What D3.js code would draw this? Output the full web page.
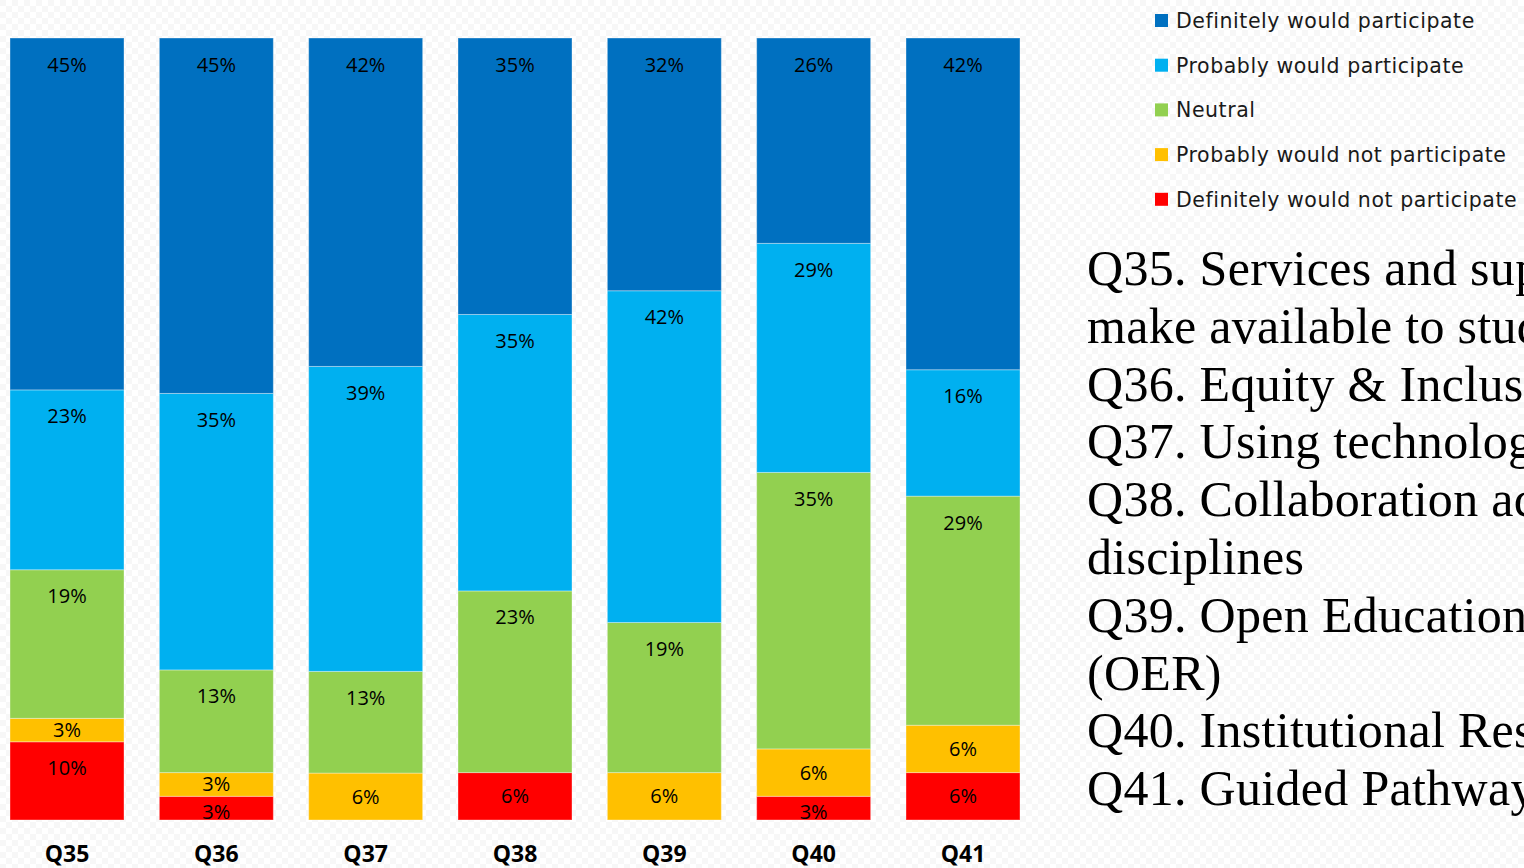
<!DOCTYPE html>
<html>
<head>
<meta charset="utf-8">
<script src="https://cdn.jsdelivr.net/npm/d3@7"></script>
<style>
  html, body { margin: 0; padding: 0; background: #fff; overflow: hidden; }
  svg { display: block; }
</style>
</head>
<body>
<svg id="chart" width="1524" height="868"></svg>
<script>
// ---- Data ----
const categories = ["Q35", "Q36", "Q37", "Q38", "Q39", "Q40", "Q41"];
const seriesNames = [
  "Definitely would participate",
  "Probably would participate",
  "Neutral",
  "Probably would not participate",
  "Definitely would not participate"
];
const definitelyWould    = [45, 45, 42, 35, 32, 26, 42];
const probablyWould      = [23, 35, 39, 35, 42, 29, 16];
const neutral            = [19, 13, 13, 23, 19, 35, 29];
const probablyWouldNot   = [3, 3, 6, 0, 6, 6, 6];
const definitelyWouldNot = [10, 3, 0, 6, 0, 3, 6];
const seriesColors = ["#0070C0", "#00B0F0", "#92D050", "#FFC000", "#FF0000"];
const descriptionLines = [
  "Q35. Services and supports you would like to",
  "make available to students",
  "Q36. Equity & Inclusion",
  "Q37. Using technology in teaching",
  "Q38. Collaboration across",
  "disciplines",
  "Q39. Open Educational Resources",
  "(OER)",
  "Q40. Institutional Research",
  "Q41. Guided Pathways"
];

// ---- Build table ----
const seriesArrays = [definitelyWould, probablyWould, neutral, probablyWouldNot, definitelyWouldNot];
const table = categories.map((c, i) => {
  const row = { cat: c };
  seriesNames.forEach((s, j) => row[s] = seriesArrays[j][i]);
  return row;
});

const svg = d3.select("#chart");

// background faint checker texture
const defs = svg.append("defs");
const pat = defs.append("pattern").attr("id", "bgpat")
  .attr("width", 12).attr("height", 12).attr("patternUnits", "userSpaceOnUse");
pat.append("rect").attr("width", 12).attr("height", 12).attr("fill", "#ffffff");
pat.append("rect").attr("width", 6).attr("height", 6).attr("fill", "#f7f7f7");
pat.append("rect").attr("x", 6).attr("y", 6).attr("width", 6).attr("height", 6).attr("fill", "#f7f7f7");
svg.append("rect").attr("width", 1524).attr("height", 868).attr("fill", "url(#bgpat)");

// stack from bottom: red, yellow, green, light blue, dark blue
const stackOrder = seriesNames.slice().reverse();
const stack = d3.stack().keys(stackOrder).offset(d3.stackOffsetExpand);
const stacked = stack(table);

const x = d3.scaleBand().domain(categories).range([10, 1020]).paddingInner(0.2366).paddingOuter(0);
const y = d3.scaleLinear().domain([0, 1]).range([820, 38]);
const color = d3.scaleOrdinal().domain(seriesNames).range(seriesColors);

const layers = svg.append("g").selectAll("g.layer")
  .data(stacked).enter().append("g").attr("class", "layer")
  .attr("fill", d => color(d.key));

layers.selectAll("rect")
  .data(d => d.map(p => ({ p, key: d.key })))
  .enter().append("rect")
  .attr("x", d => x(d.p.data.cat))
  .attr("width", x.bandwidth())
  .attr("y", d => y(d.p[1]))
  .attr("height", d => y(d.p[0]) - y(d.p[1]))
  .attr("stroke", "#ffffff").attr("stroke-opacity", 0.35).attr("stroke-width", 1);

// data labels
layers.selectAll("text")
  .data(d => d.map(p => ({ p, key: d.key })).filter(o => o.p.data[o.key] > 0))
  .enter().append("text")
  .attr("x", d => x(d.p.data.cat) + x.bandwidth() / 2)
  .attr("y", d => {
    const top = y(d.p[1]);
    const h = y(d.p[0]) - top;
    let off = Math.min(26.5, h / 2);
    if (d.p[0] === 0 && h < 30) off += 4;
    return top + off;
  })
  .attr("dy", "0.35em")
  .attr("text-anchor", "middle")
  .attr("font-family", "'Open Sans', sans-serif")
  .attr("font-size", 20)
  .attr("fill", "#000")
  .text(d => d.p.data[d.key] + "%");

// x axis labels
const xAxis = d3.axisBottom(x).tickSize(0).tickPadding(0);
const gx = svg.append("g").attr("transform", "translate(0,846)").call(xAxis);
gx.select(".domain").remove();
gx.selectAll("text")
  .attr("font-family", "'Open Sans', sans-serif")
  .attr("font-weight", "bold")
  .attr("font-size", 23)
  .attr("fill", "#000")
  .attr("dy", "0.71em");

// legend
const legend = svg.append("g").selectAll("g")
  .data(seriesNames).enter().append("g")
  .attr("transform", (d, i) => `translate(1155, ${28 + i * 44.7})`);
legend.append("rect")
  .attr("x", 0).attr("y", -14).attr("width", 13).attr("height", 13)
  .attr("fill", d => color(d));
legend.append("text")
  .attr("x", 21).attr("y", 0)
  .attr("font-family", "'DejaVu Sans', sans-serif")
  .attr("font-size", 20.5)
  .attr("letter-spacing", 0.55)
  .attr("fill", "#1a1a1a")
  .text(d => d);

// description text
svg.append("g").selectAll("text")
  .data(descriptionLines).enter().append("text")
  .attr("x", 1087)
  .attr("y", (d, i) => 285 + i * 57.8)
  .attr("font-family", "'Liberation Serif', 'DejaVu Serif', serif")
  .attr("font-size", 50)
  .attr("letter-spacing", 0.3)
  .attr("fill", "#000")
  .text(d => d);
</script>
</body>
</html>
